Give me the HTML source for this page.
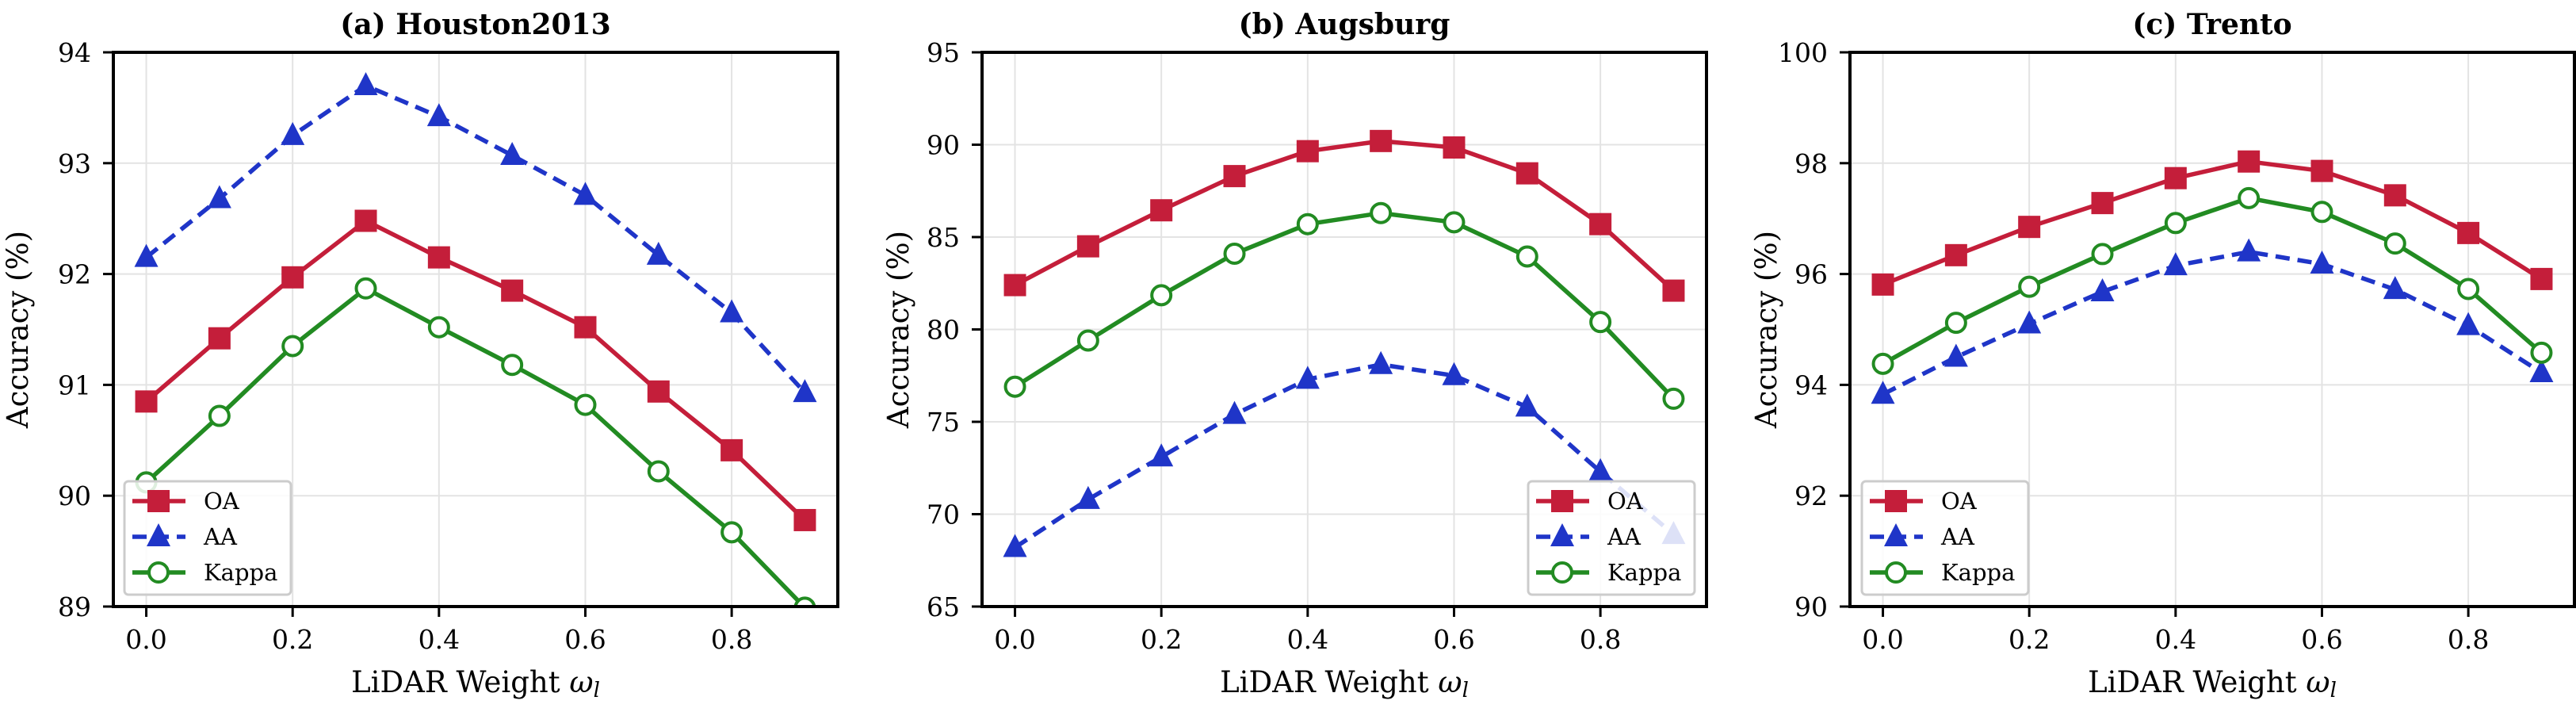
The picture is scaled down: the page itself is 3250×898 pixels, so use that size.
<!DOCTYPE html>
<html><head><meta charset="utf-8"><style>
html,body{margin:0;padding:0;background:#fff;}
svg{display:block;font-family:"DejaVu Serif","Liberation Serif",serif;}
</style></head><body>
<svg id="chart" width="3250" height="898" viewBox="0 0 3250 898" xmlns="http://www.w3.org/2000/svg"></svg>
<script>
const xValues = [0.0,0.1,0.2,0.3,0.4,0.5,0.6,0.7,0.8,0.9];
const xTicks = [0.0,0.2,0.4,0.6,0.8];
const titles = ["(a) Houston2013","(b) Augsburg","(c) Trento"];
const oaHouston = [90.85,91.42,91.97,92.48,92.15,91.85,91.52,90.94,90.41,89.78];
const aaHouston = [92.15,92.68,93.25,93.70,93.42,93.07,92.71,92.17,91.65,90.93];
const kappaHouston = [90.12,90.72,91.35,91.87,91.52,91.18,90.82,90.22,89.67,88.99];
const oaAugsburg = [82.4,84.5,86.45,88.3,89.65,90.2,89.85,88.45,85.7,82.1];
const aaAugsburg = [68.2,70.8,73.1,75.4,77.3,78.1,77.5,75.8,72.3,68.9];
const kappaAugsburg = [76.9,79.4,81.85,84.1,85.7,86.3,85.8,83.95,80.4,76.25];
const oaTrento = [95.81,96.34,96.85,97.28,97.73,98.03,97.86,97.42,96.74,95.91];
const aaTrento = [93.83,94.5,95.1,95.68,96.15,96.4,96.18,95.72,95.07,94.22];
const kappaTrento = [94.38,95.12,95.77,96.36,96.92,97.37,97.12,96.55,95.73,94.58];
const yTicksHouston = [89,90,91,92,93,94];
const yTicksAugsburg = [65,70,75,80,85,90,95];
const yTicksTrento = [90,92,94,96,98,100];

const NS="http://www.w3.org/2000/svg";
const svg=document.getElementById('chart');
function mk(tag,attrs,parent){const e=document.createElementNS(NS,tag);for(const k in attrs)e.setAttribute(k,attrs[k]);(parent||svg).appendChild(e);return e;}
const RED="#c41e3a",BLUE="#1f35c8",GREEN="#228b22";
const panels=[
 {left:143,title:titles[0],yt:yTicksHouston,oa:oaHouston,aa:aaHouston,ka:kappaHouston,legLeft:157},
 {left:1239,title:titles[1],yt:yTicksAugsburg,oa:oaAugsburg,aa:aaAugsburg,ka:kappaAugsburg,legLeft:1928},
 {left:2334,title:titles[2],yt:yTicksTrento,oa:oaTrento,aa:aaTrento,ka:kappaTrento,legLeft:2349}
];
const TOP=66,BOT=765,W=914;
function drawMarker(g,kind,cx,cy,color){
  if(kind==='sq'){const m=mk('rect',{x:cx-14,y:cy-14,width:28,height:28,fill:color},g);return m;}
  if(kind==='tri'){const m=mk('polygon',{points:`${cx},${cy-17} ${cx-15},${cy+12} ${cx+15},${cy+12}`,fill:color},g);return m;}
  const m=mk('circle',{cx:cx,cy:cy,r:12,fill:'#fff',stroke:color,'stroke-width':4},g);return m;
}
panels.forEach((p,pi)=>{
  const g=mk('g',{});
  
  
  const xmin=-0.045,xmax=0.945,ymin=p.yt[0],ymax=p.yt[p.yt.length-1];
  const sx=v=>p.left+(v-xmin)/(xmax-xmin)*W;
  const sy=v=>BOT-(v-ymin)/(ymax-ymin)*(BOT-TOP);
  const clipId='clip'+pi;
  const cp=mk('clipPath',{id:clipId},g);mk('rect',{x:p.left,y:TOP,width:W,height:BOT-TOP},cp);
  xTicks.forEach(t=>{const l=mk('line',{x1:sx(t),x2:sx(t),y1:TOP,y2:BOT,stroke:'#e3e3e3','stroke-width':2},g);});
  p.yt.forEach(t=>{const l=mk('line',{x1:p.left,x2:p.left+W,y1:sy(t),y2:sy(t),stroke:'#e3e3e3','stroke-width':2},g);});
  const series=[
    {vals:p.oa,color:RED,kind:'sq',dash:null,name:'oa'},
    {vals:p.aa,color:BLUE,kind:'tri',dash:'18,10',name:'aa'},
    {vals:p.ka,color:GREEN,kind:'circ',dash:null,name:'kappa'}
  ];
  const sg=mk('g',{'clip-path':`url(#${clipId})`},g);
  series.forEach(s=>{
    const pts=xValues.map((x,i)=>sx(x)+','+sy(s.vals[i])).join(' ');
    const pl=mk('polyline',{points:pts,fill:'none',stroke:s.color,'stroke-width':5.5,'stroke-linejoin':'round'},sg);
    if(s.dash)pl.setAttribute('stroke-dasharray',s.dash);
    
    
    xValues.forEach((x,i)=>{const m=drawMarker(sg,s.kind,sx(x),sy(s.vals[i]),s.color);
      
      });
  });
  const fr=mk('rect',{x:p.left,y:TOP,width:W,height:BOT-TOP,fill:'none',stroke:'#000','stroke-width':4},g);
  
  xTicks.forEach(t=>{
    mk('line',{x1:sx(t),x2:sx(t),y1:BOT,y2:BOT+13,stroke:'#000','stroke-width':3},g);
    const tx=mk('text',{x:sx(t),y:818,'font-size':33,'text-anchor':'middle'},g);tx.textContent=t.toFixed(1);
    
  });
  p.yt.forEach(t=>{
    mk('line',{x1:p.left-13,x2:p.left,y1:sy(t),y2:sy(t),stroke:'#000','stroke-width':3},g);
    const tx=mk('text',{x:p.left-28,y:sy(t)+12,'font-size':33,'text-anchor':'end'},g);tx.textContent=t;
    
  });
  const tt=mk('text',{x:p.left+W/2,y:43,'font-size':36,'font-weight':'bold','text-anchor':'middle'},g);tt.textContent=p.title;
  
  const xl=mk('text',{x:p.left+W/2,y:873,'font-size':37,'text-anchor':'middle'},g);
  xl.innerHTML='LiDAR Weight <tspan font-style="italic">ω</tspan><tspan font-style="italic" font-size="26" dy="6">l</tspan>';
  
  const ylx=p.left-(pi===0?108:93);
  const yl=mk('text',{x:ylx,y:(TOP+BOT)/2,'font-size':37,'text-anchor':'middle',transform:`rotate(-90 ${ylx} ${(TOP+BOT)/2})`},g);
  yl.textContent='Accuracy (%)';
  
  const lg=mk('g',{},g);
  
  const L=p.legLeft;
  mk('rect',{x:L,y:607,width:210,height:143,rx:5,fill:'rgba(255,255,255,0.85)',stroke:'#cccccc','stroke-width':3},lg);
  const rows=[632,677,722];
  series.forEach((s,i)=>{
    const e=mk('g',{},lg);
    
    
    const ln=mk('line',{x1:L+10,x2:L+77,y1:rows[i],y2:rows[i],stroke:s.color,'stroke-width':5.5},e);
    if(s.dash)ln.setAttribute('stroke-dasharray','18,10');
    drawMarker(e,s.kind,L+43,rows[i],s.color);
    const t=mk('text',{x:L+100,y:rows[i]+10,'font-size':29},e);
    t.textContent=['OA','AA','Kappa'][i];
  });
});
</script>
</body></html>
